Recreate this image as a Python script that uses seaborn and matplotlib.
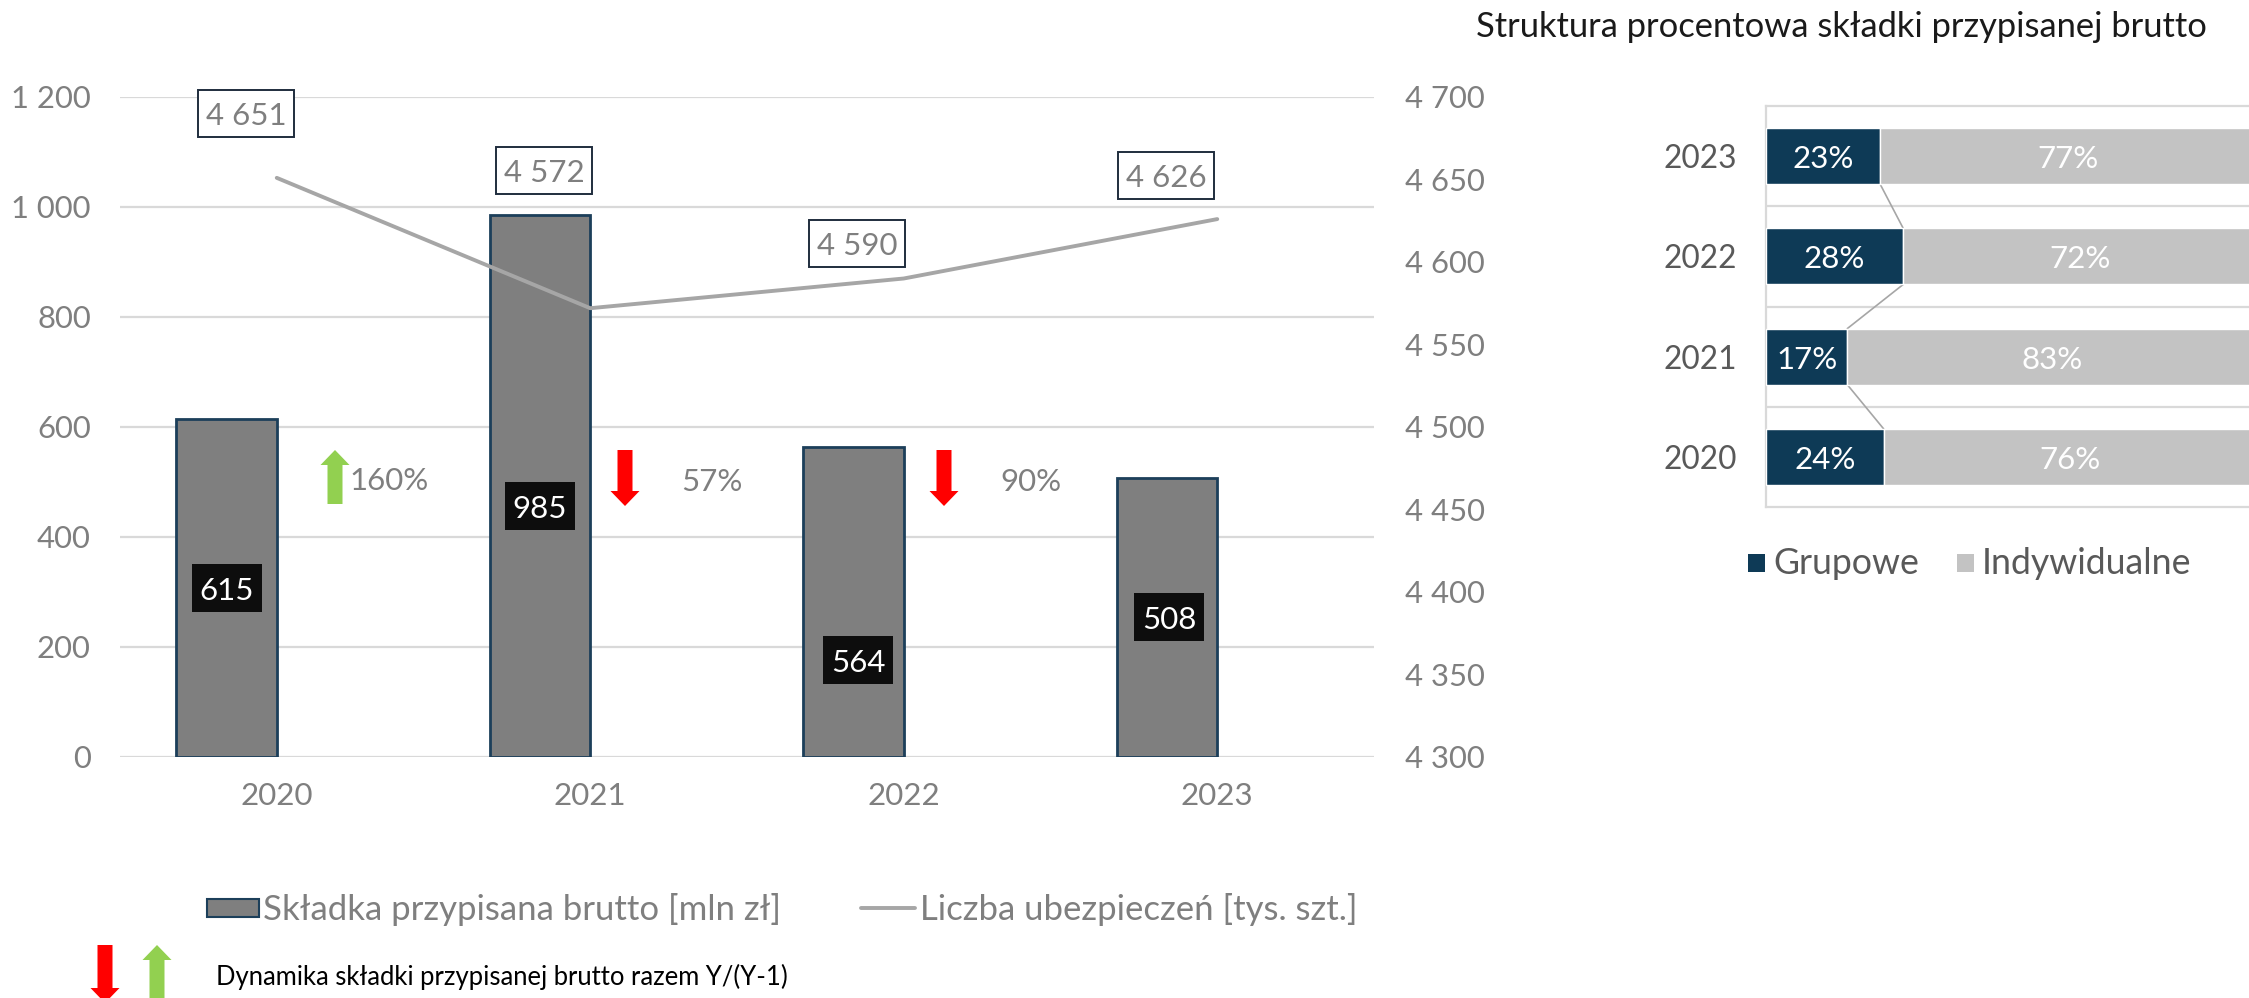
import matplotlib
matplotlib.use("Agg")
import matplotlib.pyplot as plt
import seaborn as sns
import pandas as pd
from matplotlib.patches import FancyArrow, Rectangle
from matplotlib.lines import Line2D
from matplotlib.transforms import IdentityTransform

years = ["2020", "2021", "2022", "2023"]
premium = [615, 985, 564, 508]
policies = [4651, 4572, 4590, 4626]
policy_labels = ["4 651", "4 572", "4 590", "4 626"]
growth_labels = ["160%", "57%", "90%"]
left_ticks = [0, 200, 400, 600, 800, 1000, 1200]
left_tick_labels = ["0", "200", "400", "600", "800", "1 000", "1 200"]
right_ticks = [4300, 4350, 4400, 4450, 4500, 4550, 4600, 4650, 4700]
right_tick_labels = ["4 300", "4 350", "4 400", "4 450", "4 500", "4 550", "4 600", "4 650", "4 700"]
years_desc = ["2023", "2022", "2021", "2020"]
group_share = [23.3, 28.0, 16.6, 24.0]
indiv_share = [76.7, 72.0, 83.4, 76.0]
group_labels = ["23%", "28%", "17%", "24%"]
indiv_labels = ["77%", "72%", "83%", "76%"]

W, H = 2249, 998
GRAY = "#7f7f7f"; NAVY = "#0e3a56"; LG = "#c3c3c3"; GRID = "#d9d9d9"
sns.set_theme(style="white")
plt.rcParams["font.family"] = ["Lato", "DejaVu Sans"]
fig = plt.figure(figsize=(W / 100, H / 100), dpi=100, facecolor="white")
ID = IdentityTransform()

def axes_px(x0, y0, x1, y1):
    return fig.add_axes([x0 / W, 1 - y1 / H, (x1 - x0) / W, (y1 - y0) / H])

def txt(x, y, s, size=22.5, color=GRAY, ha="center", va="center", **kw):
    return fig.text(x / W, 1 - y / H, s, fontsize=size, color=color, ha=ha, va=va, zorder=7, **kw)

def arrow(x, y0, y1, color):
    fig.add_artist(FancyArrow(x, H - y0, 0, y0 - y1, width=15, head_width=29, head_length=15,
                              length_includes_head=True, color=color, lw=0, transform=ID, zorder=5))

def box(cx, cy, w, h, fc, ec, lw):
    fig.add_artist(Rectangle((cx - w / 2, H - cy - h / 2), w, h, fc=fc, ec=ec, lw=lw, transform=ID, zorder=6))

# left combo chart
ax = axes_px(120, 97, 1374, 757)
df = pd.DataFrame({"year": years * 2, "val": premium + [float("nan")] * 4,
                   "s": ["a"] * 4 + ["b"] * 4})
sns.barplot(data=df, x="year", y="val", hue="s", ax=ax, width=0.64, legend=False, gap=0,
            palette=[GRAY, GRAY], edgecolor="#1c3f5a", linewidth=2, saturation=1, zorder=3)
ax.set_xlim(-0.5, 3.5)
ax.set_ylim(0, 1200)
ax.set_yticks(left_ticks, left_tick_labels)
ax.set_xlabel(""); ax.set_ylabel("")
ax.grid(axis="y", color=GRID, lw=1.6, zorder=0)
ax.set_axisbelow(True)
sns.despine(ax=ax, left=True, bottom=True)
ax.tick_params(axis="y", length=0, pad=21, labelsize=22.3, labelcolor=GRAY)
ax.tick_params(axis="x", length=0, pad=18, labelsize=22.5, labelcolor=GRAY)

ax2 = ax.twinx()
sns.lineplot(x=list(range(4)), y=policies, ax=ax2, color="#a6a6a6", lw=2.8, legend=False)
ax2.set_ylim(4300, 4700)
ax2.set_yticks(right_ticks, right_tick_labels)
ax2.set_ylabel("")
ax2.grid(False)
for s in ax2.spines.values():
    s.set_visible(False)
ax2.tick_params(axis="y", length=0, pad=22, labelsize=22.3, labelcolor=GRAY)

# data callouts
policy_pos = [(246, 113), (544, 170), (857, 243), (1166, 175)]
for (x, y), s in zip(policy_pos, policy_labels):
    box(x, y, 96, 47, "white", "#1f2d3d", 1.4)
    txt(x, y + 3, s)
premium_pos = [(227, 588), (540, 506), (858, 660), (1169, 617)]
for (x, y), v in zip(premium_pos, premium):
    box(x, y, 70, 48, "#0d0d0d", "none", 0)
    txt(x, y + 3, str(v), color="white")

# growth arrows and labels
arrow(335, 504, 450, "#92d050")
arrow(625, 450, 506, "#ff0000")
arrow(944, 450, 506, "#ff0000")
for (x, y), s in zip([(389, 481), (712, 482), (1031, 482)], growth_labels):
    txt(x, y, s)

# left legend
fig.add_artist(Rectangle((207, H - 917), 52, 18, fc=GRAY, ec="#1c3f5a", lw=1.5, transform=ID))
txt(263, 909, "Składka przypisana brutto [mln zł]", size=25, ha="left")
fig.add_artist(Line2D([861, 915], [H - 908, H - 908], color="#a6a6a6", lw=2.8, transform=ID))
txt(920, 909, "Liczba ubezpieczeń [tys. szt.]", size=25, ha="left")
arrow(105, 945, 1003, "#ff0000")
arrow(157, 1003, 945, "#92d050")
txt(216, 977, "Dynamika składki przypisanej brutto razem Y/(Y-1)", size=18.45, color="black", ha="left")

# right stacked chart
txt(1476, 27, "Struktura procentowa składki przypisanej brutto", size=24.8, color="#1a1a1a", ha="left")
bx = axes_px(1766, 106, 2256, 507)
sdf = pd.DataFrame({"year": years_desc, "g": group_share, "i": indiv_share})
sns.barplot(data=sdf, y="year", x="g", ax=bx, color=NAVY, width=0.56, saturation=1, zorder=3)
sns.barplot(data=sdf, y="year", x="i", left=sdf["g"], ax=bx, color=LG, width=0.56, saturation=1, zorder=3)
bx.set_xlim(0, 100)
bx.set_ylim(3.5, -0.5)
bx.set_xlabel(""); bx.set_ylabel("")
bx.set_xticks([])
bx.hlines([0.5, 1.5, 2.5], 0, 100, color=GRID, lw=1.6, zorder=1)
for n, s in bx.spines.items():
    s.set_visible(n in ("left", "top", "bottom"))
    s.set_color(GRID); s.set_linewidth(1.6)
bx.tick_params(axis="y", length=0, pad=21, labelsize=22.8, labelcolor="#595959")
for i in range(3):
    bx.plot([group_share[i], group_share[i + 1]], [i + 0.28, i + 0.72], color="#a6a6a6", lw=1.2, zorder=2)
for i in range(4):
    bx.text(group_share[i] / 2, i + 0.03, group_labels[i], color="white", ha="center", va="center", fontsize=22.5, zorder=5)
    bx.text(group_share[i] + indiv_share[i] / 2, i + 0.03, indiv_labels[i], color="white", ha="center", va="center", fontsize=22.5, zorder=5)

# right legend
fig.add_artist(Rectangle((1748, H - 572), 17, 18, fc=NAVY, ec="none", transform=ID))
txt(1773, 564, "Grupowe", color="#595959", ha="left", size=25.7)
fig.add_artist(Rectangle((1957, H - 572), 17, 18, fc=LG, ec="none", transform=ID))
txt(1982, 564, "Indywidualne", color="#595959", ha="left", size=25.7)

fig.savefig("out.png", dpi=100, facecolor="white")
